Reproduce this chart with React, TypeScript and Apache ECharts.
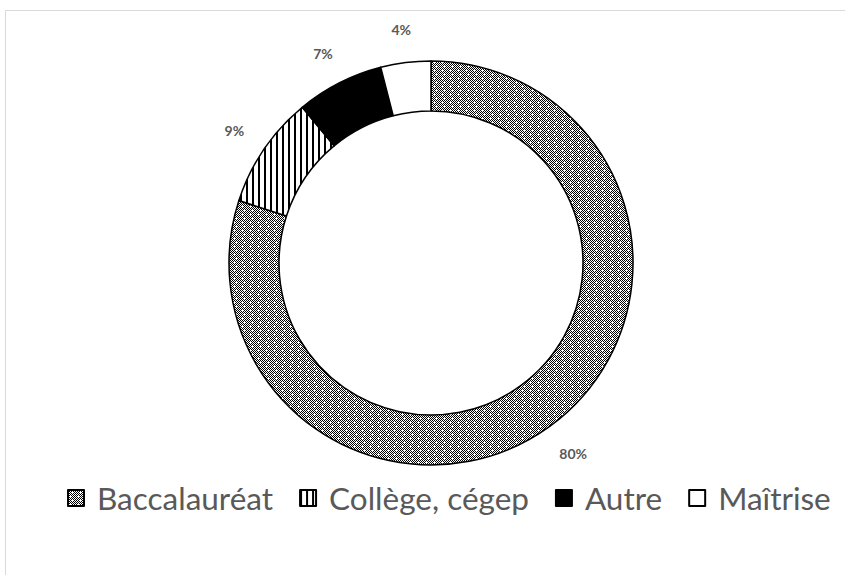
import React, { useEffect, useRef } from "react";
import * as echarts from "echarts";

const categories = ["Baccalauréat", "Collège, cégep", "Autre", "Maîtrise"];
const values = [80, 9, 7, 4];

function makeTile(rows: string[], scale = 1): HTMLCanvasElement {
  const h = rows.length;
  const w = rows[0].length;
  const c = document.createElement("canvas");
  c.width = w * scale;
  c.height = h * scale;
  const ctx = c.getContext("2d")!;
  ctx.fillStyle = "#ffffff";
  ctx.fillRect(0, 0, c.width, c.height);
  ctx.fillStyle = "#000000";
  for (let y = 0; y < h; y++) {
    for (let x = 0; x < w; x++) {
      if (rows[y][x] === "X") ctx.fillRect(x * scale, y * scale, scale, scale);
    }
  }
  return c;
}

export default function App() {
  const ref = useRef<HTMLDivElement>(null);
  useEffect(() => {
    if (!ref.current) return;
    const chart = echarts.init(ref.current, undefined, { renderer: "svg" });
    const checker = makeTile([
      "X.X.X.X.",
      ".X.X.X.X",
      "X.X...X.",
      ".X.X.X.X",
      "X.X.X.X.",
      ".X.X.X.X",
      "X...X.X.",
      ".X.X.X.X",
    ]);
    const stripes = makeTile(["XX....", "XX....", "XX....", "XX...."]);
    const pat = (c: HTMLCanvasElement) => ({
      image: c,
      repeat: "repeat",
      imageWidth: c.width,
      imageHeight: c.height,
    });
    const fills: any[] = [pat(checker), pat(stripes), "#000000", "#ffffff"];
    const labelColor = "#595959";
    const total = values.reduce((a, b) => a + b, 0);
    const center = [431, 263];
    const outerR = 202;
    const midAngles: number[] = [];
    let acc = 0;
    values.forEach((v) => {
      midAngles.push(((acc + v / 2) / total) * Math.PI * 2);
      acc += v;
    });
    chart.setOption({
      animation: false,
      backgroundColor: "#ffffff",
      graphic: [
        {
          type: "rect",
          shape: { x: 5.5, y: 10.5, width: 900, height: 700 },
          style: { fill: "none", stroke: "#d9d9d9", lineWidth: 1 },
          silent: true,
        },
      ],
      legend: {
        top: 477,
        left: 62,
        itemWidth: 16,
        itemHeight: 16,
        itemGap: 26,
        icon: "rect",
        textStyle: {
          fontSize: 31.5,
          color: labelColor,
          fontFamily: "Lato",
          padding: [0, 0, 0, 8],
        },
        data: categories,
      },
      series: [
        {
          type: "pie",
          center: center,
          radius: [152, outerR],
          startAngle: 90,
          clockwise: true,
          avoidLabelOverlap: false,
          itemStyle: { borderColor: "#000000", borderWidth: 1.5 },
          label: {
            show: true,
            position: "outside",
            formatter: "{c}%",
            color: labelColor,
            fontSize: 14,
            fontWeight: "bold",
            fontFamily: "Lato",
          },
          labelLine: { show: false, length: 14, length2: 0 },
          labelLayout: (params: any) => {
            const a = midAngles[params.dataIndex];
            const dx = Math.sin(a);
            const dy = -Math.cos(a);
            const r = outerR + 26;
            const w = params.labelRect.width / 2;
            const h = params.labelRect.height / 2;
            return {
              x: center[0] + dx * r + dx * w,
              y: center[1] + dy * r + dy * h,
              align: "center",
              verticalAlign: "middle",
            };
          },
          emphasis: { disabled: true },
          data: categories.map((name, i) => ({
            name,
            value: values[i],
            itemStyle: { color: fills[i] },
          })),
        },
      ],
    });
    return () => chart.dispose();
  }, []);
  return (
    <div
      ref={ref}
      style={{ position: "fixed", left: 0, top: 0, width: 845, height: 575 }}
    />
  );
}
